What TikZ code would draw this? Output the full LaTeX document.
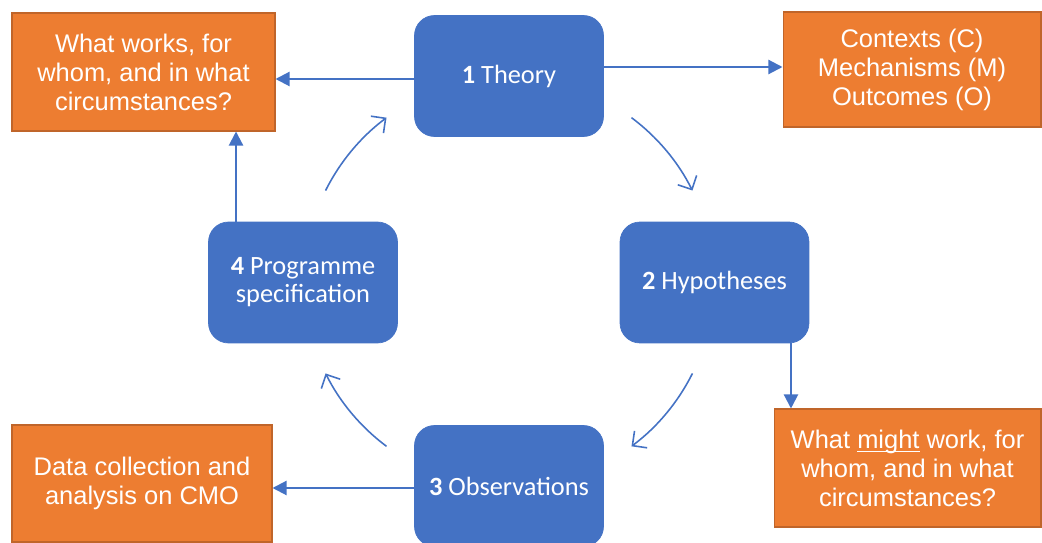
\documentclass[tikz,border=0pt]{standalone}
\usepackage{fontspec}
\setmainfont{Liberation Sans}
\newfontfamily\calfont{Carlito}
\usetikzlibrary{arrows.meta}
\definecolor{oblue}{HTML}{4472C4}
\definecolor{oorange}{HTML}{ED7D31}
\definecolor{oedge}{HTML}{C0652A}
\newcommand\myul[1]{\setbox0\hbox{#1}\rlap{\rule[-2.2pt]{\wd0}{0.6pt}}#1}
\begin{document}
\begin{tikzpicture}[x=0.02cm,y=0.02cm,
  bluebox/.style={fill=oblue, draw=oblue, rounded corners=0.4cm, minimum width=3.78cm, minimum height=2.42cm, text=white, font=\calfont\fontsize{15}{16}\selectfont, align=center, inner sep=0pt},
  orbox/.style={fill=oorange, draw=oedge, line width=0.6pt, text=white, font=\fontsize{14.5}{16.5}\selectfont, align=center, inner sep=0pt},
  conn/.style={draw=oblue, line width=1.2pt, -{Triangle[length=8pt,width=8pt]}},
  cyc/.style={draw=oblue, line width=0.9pt, -{Straight Barb[length=6pt,width=12pt]}}]
\useasboundingbox (0,0) rectangle (1042,-543);

% blue process boxes
\node[bluebox] (theory) at (509,-76) {\textbf{1} Theory};
\node[bluebox] (hyp) at (714.5,-282.5) {\textbf{2} Hypotheses};
\node[bluebox] (prog) at (303,-282.5) {\textbf{4} Programme\\specification};
\node[bluebox] (obs) at (509,-486) {\textbf{3} Observations};

% orange boxes
\node[orbox, minimum width=5.26cm, minimum height=2.36cm] (tl) at (143.5,-72) {What works, for\\whom, and in what\\circumstances?};
\node[orbox, minimum width=5.16cm, minimum height=2.3cm] (tr) at (912,-69.5) {Contexts (C)\\Mechanisms (M)\\Outcomes (O)};
\node[orbox, minimum width=5.34cm, minimum height=2.36cm] (br) at (907.5,-468) {What \myul{might} work, for\\whom, and in what\\circumstances?};
\node[orbox, minimum width=5.2cm, minimum height=2.34cm] (bl) at (142,-483.5) {Data collection and\\analysis on CMO};

% straight connectors
\draw[conn] ([yshift=-0.06cm]theory.west) -- ([yshift=-0.06cm]theory.west -| tl.east);
\draw[conn] ([yshift=0.18cm]theory.east) -- ([yshift=0.18cm]theory.east -| tr.west);
\draw[conn] ([xshift=1.53cm]hyp.south) -- ([xshift=1.53cm]hyp.south |- br.north);
\draw[conn] ([yshift=-0.04cm]obs.west) -- ([yshift=-0.04cm]obs.west -| bl.east);
\draw[conn] ([xshift=-1.34cm]prog.north) -- ([xshift=-1.34cm]prog.north |- tl.south);

% cycle arcs
\coordinate (C) at (509,-282);
\draw[cyc] (C) ++(53.3:4.1cm) arc[start angle=53.3, end angle=26.5, radius=4.1cm];
\draw[cyc] (C) ++(-26.5:4.1cm) arc[start angle=-26.5, end angle=-53.3, radius=4.1cm];
\draw[cyc] (C) ++(-126.7:4.1cm) arc[start angle=-126.7, end angle=-153.5, radius=4.1cm];
\draw[cyc] (C) ++(153.5:4.1cm) arc[start angle=153.5, end angle=126.7, radius=4.1cm];
\end{tikzpicture}
\end{document}
